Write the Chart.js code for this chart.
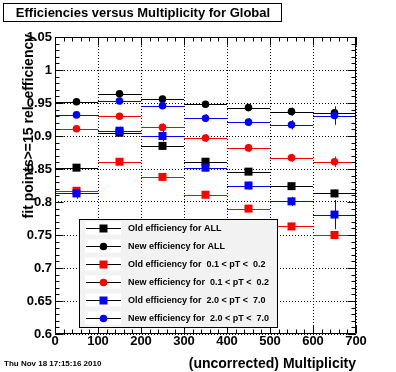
<!DOCTYPE html>
<html>
<head>
<meta charset="utf-8">
<script src="https://cdn.jsdelivr.net/npm/chart.js@4.4.0/dist/chart.umd.min.js"></script>
<style>
html, body { margin: 0; padding: 0; background: #fff; }
#c { display: block; }
</style>
</head>
<body>
<canvas id="c" width="396" height="372"></canvas>
<script>
// multiplicity bins
var binCenters = [50, 150, 250, 350, 450, 550, 650];
var binHalfWidth = [50, 50, 50, 50, 50, 50, 50];

// efficiencies per bin
var oldAll  = [0.852, 0.905, 0.885, 0.861, 0.846, 0.824, 0.813];
var newAll  = [0.952, 0.964, 0.956, 0.948, 0.943, 0.937, 0.935];
var oldLow  = [0.817, 0.861, 0.838, 0.811, 0.790, 0.763, 0.750];
var newLow  = [0.911, 0.930, 0.913, 0.897, 0.882, 0.867, 0.861];
var oldHigh = [0.813, 0.908, 0.900, 0.852, 0.825, 0.801, 0.781];
var newHigh = [0.932, 0.953, 0.946, 0.927, 0.921, 0.917, 0.931];

// errors
var errOldAll  = [0.003, 0.003, 0.003, 0.003, 0.004, 0.004, 0.006];
var errNewAll  = [0.004, 0.005, 0.005, 0.005, 0.005, 0.006, 0.008];
var errOldLow  = [0.004, 0.004, 0.004, 0.004, 0.005, 0.005, 0.006];
var errNewLow  = [0.005, 0.005, 0.006, 0.006, 0.006, 0.006, 0.008];
var errOldHigh = [0.008, 0.006, 0.008, 0.006, 0.006, 0.007, 0.022];
var errNewHigh = [0.005, 0.005, 0.005, 0.006, 0.006, 0.007, 0.014];

var xTicks = [0, 100, 200, 300, 400, 500, 600, 700];
var yTicks = [0.6, 0.65, 0.7, 0.75, 0.8, 0.85, 0.9, 0.95, 1, 1.05];

var series = [
    {label: 'Old efficiency for ALL', data: oldAll, err: errOldAll, color: '#000000', style: 'rect'},
    {label: 'New efficiency for ALL', data: newAll, err: errNewAll, color: '#000000', style: 'circle'},
    {label: 'Old efficiency for  0.1 < pT <  0.2', data: oldLow, err: errOldLow, color: '#ff0000', style: 'rect'},
    {label: 'New efficiency for  0.1 < pT <  0.2', data: newLow, err: errNewLow, color: '#ff0000', style: 'circle'},
    {label: 'Old efficiency for  2.0 < pT <  7.0', data: oldHigh, err: errOldHigh, color: '#0000ff', style: 'rect'},
    {label: 'New efficiency for  2.0 < pT <  7.0', data: newHigh, err: errNewHigh, color: '#0000ff', style: 'circle'}
];

var FONT = "'Liberation Sans', Arial, Helvetica, sans-serif";

function drawMarker(ctx, style, color, x, y) {
    ctx.fillStyle = color;
    ctx.beginPath();
    if (style === 'rect') {
        ctx.rect(x - 4, y - 4, 8, 8);
    } else {
        ctx.arc(x, y, 3.8, 0, Math.PI * 2);
    }
    ctx.fill();
}

var rootStyle = {
    id: 'rootStyle',
    // bin width lines + error bars under each graph's markers
    beforeDatasetDraw: function (chart, args) {
        var s = series[args.index];
        var xs = chart.scales.x, ys = chart.scales.y;
        var ctx = chart.ctx;
        ctx.save();
        ctx.strokeStyle = s.color;
        ctx.lineWidth = 1;
        ctx.beginPath();
        for (var i = 0; i < s.data.length; i++) {
            var x0 = xs.getPixelForValue(binCenters[i] - binHalfWidth[i]);
            var x1 = xs.getPixelForValue(binCenters[i] + binHalfWidth[i]);
            var y = Math.round(ys.getPixelForValue(s.data[i])) + 0.5;
            ctx.moveTo(x0, y);
            ctx.lineTo(x1, y);
            var xc = Math.round(xs.getPixelForValue(binCenters[i])) + 0.5;
            ctx.moveTo(xc, ys.getPixelForValue(s.data[i] - s.err[i]));
            ctx.lineTo(xc, ys.getPixelForValue(s.data[i] + s.err[i]));
        }
        ctx.stroke();
        ctx.restore();
    },
    // frame and inside ticks on all four sides
    afterDatasetsDraw: function (chart) {
        var a = chart.chartArea, ctx = chart.ctx;
        var xs = chart.scales.x, ys = chart.scales.y;
        var L = Math.round(a.left) + 0.5, R = Math.round(a.right) - 0.5;
        var T = Math.round(a.top) + 0.5, B = Math.round(a.bottom) - 0.5;
        ctx.save();
        ctx.strokeStyle = '#000';
        ctx.lineWidth = 1;
        ctx.beginPath();
        ctx.rect(L, T, R - L, B - T);
        var v, p, len;
        for (v = 0; v <= 700; v += 20) {
            p = Math.round(xs.getPixelForValue(v)) + 0.5;
            len = (v % 100 === 0) ? 8 : 4;
            ctx.moveTo(p, B); ctx.lineTo(p, B - len);
            ctx.moveTo(p, T); ctx.lineTo(p, T + len);
        }
        for (var k = 0; k <= 45; k++) {
            v = 0.6 + k * 0.01;
            p = Math.round(ys.getPixelForValue(v)) + 0.5;
            len = (k % 5 === 0) ? 8 : 4;
            ctx.moveTo(L, p); ctx.lineTo(L + len, p);
            ctx.moveTo(R, p); ctx.lineTo(R - len, p);
        }
        ctx.stroke();
        ctx.restore();
    },
    afterDraw: function (chart) {
        var ctx = chart.ctx;
        ctx.save();
        ctx.fillStyle = '#000';
        ctx.strokeStyle = '#000';
        ctx.lineWidth = 1;

        // title box
        ctx.fillStyle = '#fff';
        ctx.fillRect(3.5, 3.5, 278, 18);
        ctx.strokeRect(3.5, 3.5, 278, 18);
        ctx.fillStyle = '#000';
        ctx.font = 'bold 13px ' + FONT;
        ctx.textAlign = 'center';
        ctx.textBaseline = 'middle';
        ctx.fillText('Efficiencies versus Multiplicity for Global', 143, 13);

        // axis titles
        ctx.font = 'bold 14px ' + FONT;
        ctx.textAlign = 'right';
        ctx.fillText('(uncorrected) Multiplicity', 356, 364);
        ctx.save();
        ctx.translate(29, 34);
        ctx.rotate(-Math.PI / 2);
        ctx.fillText('fit points>=15 rel. efficiency', 0, 0);
        ctx.restore();

        // date stamp
        ctx.font = 'bold 8px ' + FONT;
        ctx.textAlign = 'left';
        ctx.fillText('Thu Nov 18 17:15:16 2010', 4, 364);

        // legend (sample lines are black in the original, markers coloured)
        var lx = 79.5, ly = 219.5, lw = 198, lh = 108;
        ctx.fillStyle = '#f2f2f2';
        ctx.fillRect(lx, ly, lw, lh);
        ctx.strokeRect(lx, ly, lw, lh);
        ctx.font = 'bold 9px ' + FONT;
        for (var i = 0; i < series.length; i++) {
            var s = series[i];
            var cy = 228 + i * 18;
            ctx.fillStyle = '#fff';
            ctx.fillRect(85, cy - 6.5, 36, 13);
            ctx.strokeStyle = '#000';
            ctx.beginPath();
            ctx.moveTo(86, cy + 0.5);
            ctx.lineTo(121, cy + 0.5);
            ctx.stroke();
            drawMarker(ctx, s.style, s.color, 103.5, cy + 0.5);
            ctx.fillStyle = '#000';
            ctx.fillText(s.label, 128, cy + 0.5);
        }
        ctx.restore();
    }
};

var datasets = series.map(function (s, k) {
    return {
        label: s.label,
        data: s.data.map(function (v, i) { return {x: binCenters[i], y: v}; }),
        pointStyle: s.style,
        pointRadius: s.style === 'rect' ? 5.66 : 3.8,
        pointHoverRadius: s.style === 'rect' ? 5.66 : 3.8,
        backgroundColor: s.color,
        borderColor: s.color,
        borderWidth: 0,
        showLine: false,
        order: series.length - k
    };
});

Chart.defaults.font.family = FONT;
Chart.defaults.color = '#000';

new Chart(document.getElementById('c'), {
    type: 'scatter',
    data: {datasets: datasets},
    options: {
        responsive: false,
        animation: false,
        devicePixelRatio: 1,
        events: [],
        layout: {padding: {left: 0, right: 40, top: 37, bottom: 0}},
        plugins: {
            legend: {display: false},
            title: {display: false},
            tooltip: {enabled: false}
        },
        scales: {
            x: {
                type: 'linear',
                min: 0,
                max: 700,
                afterFit: function (scale) { scale.height = 38; },
                afterBuildTicks: function (scale) {
                    scale.ticks = xTicks.map(function (v) { return {value: v}; });
                },
                grid: {color: '#000', lineWidth: 1, drawTicks: false},
                border: {display: false, dash: [1, 2]},
                ticks: {
                    color: '#000',
                    font: {size: 13, weight: 'bold'},
                    padding: 0,
                    maxRotation: 0,
                    autoSkip: false,
                    callback: function (v) { return String(v); }
                }
            },
            y: {
                type: 'linear',
                min: 0.6,
                max: 1.05,
                afterFit: function (scale) { scale.width = 55; },
                afterBuildTicks: function (scale) {
                    scale.ticks = yTicks.map(function (v) { return {value: v}; });
                },
                grid: {color: '#000', lineWidth: 1, drawTicks: false},
                border: {display: false, dash: [1, 2]},
                ticks: {
                    color: '#000',
                    font: {size: 13, weight: 'bold'},
                    padding: 3,
                    autoSkip: false,
                    callback: function (v) { return String(v); }
                }
            }
        }
    },
    plugins: [rootStyle]
});
</script>
</body>
</html>
